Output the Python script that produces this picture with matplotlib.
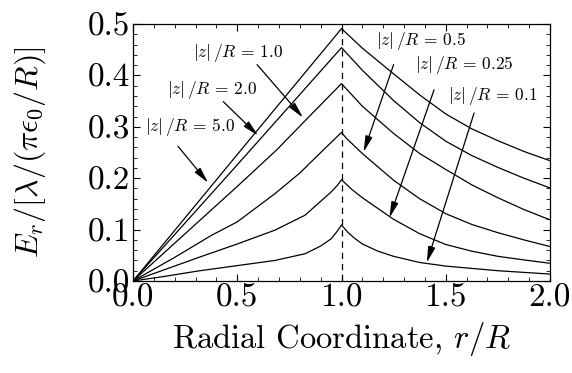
import matplotlib
matplotlib.use("Agg")
import matplotlib.pyplot as plt
from matplotlib.ticker import MultipleLocator

plt.rcParams['font.family'] = 'serif'
plt.rcParams['font.serif'] = ['cmr10', 'DejaVu Serif']
plt.rcParams['mathtext.fontset'] = 'cm'
plt.rcParams['axes.formatter.use_mathtext'] = True

# curves: |z|/R labels and sampled points (r/R, E_r)
z_labels = ["5.0", "2.0", "1.0", "0.5", "0.25", "0.1"]

r_z50 = [0.0, 0.5, 1.0, 1.1, 1.25, 1.375, 1.5, 1.625, 1.75, 1.875, 2.0]
E_z50 = [0.0, 0.246, 0.491, 0.453, 0.403, 0.362, 0.325, 0.296, 0.273, 0.252, 0.234]

r_z20 = [0.0, 0.5, 1.0, 1.1, 1.25, 1.375, 1.5, 1.625, 1.75, 1.875, 2.0]
E_z20 = [0.0, 0.226, 0.454, 0.410, 0.351, 0.308, 0.272, 0.244, 0.221, 0.200, 0.181]

r_z10 = [0.0, 0.3125, 0.5, 0.689, 0.85, 1.0, 1.1, 1.25, 1.375, 1.5, 1.625, 1.75, 1.875, 2.0]
E_z10 = [0.0, 0.115, 0.184, 0.255, 0.322, 0.384, 0.340, 0.287, 0.248, 0.217, 0.187, 0.162, 0.139, 0.119]

r_z05 = [0.0, 0.2, 0.377, 0.5, 0.681, 0.8, 0.913, 1.0, 1.025, 1.1, 1.25, 1.375, 1.5, 1.625, 1.75, 1.875, 2.0]
E_z05 = [0.0, 0.046, 0.089, 0.115, 0.170, 0.210, 0.255, 0.289, 0.277, 0.248, 0.196, 0.160, 0.131, 0.110, 0.094, 0.080, 0.067]

r_z025 = [0.0, 0.3125, 0.5, 0.681, 0.825, 0.9, 0.95, 0.98, 1.0, 1.05, 1.1, 1.25, 1.375, 1.5, 1.625, 1.75, 1.875, 2.0]
E_z025 = [0.0, 0.0455, 0.072, 0.099, 0.128, 0.155, 0.173, 0.186, 0.197, 0.178, 0.162, 0.120, 0.092, 0.071, 0.058, 0.048, 0.041, 0.0345]

r_z01 = [0.0, 0.152, 0.3125, 0.681, 0.825, 0.9, 0.95, 0.98, 1.0, 1.03, 1.06, 1.1, 1.175, 1.25, 1.375, 1.5, 1.75, 2.0]
E_z01 = [0.0, 0.009, 0.0195, 0.040, 0.053, 0.068, 0.082, 0.097, 0.109, 0.095, 0.084, 0.072, 0.058, 0.048, 0.036, 0.029, 0.020, 0.0135]

curves = [(r_z50, E_z50), (r_z20, E_z20), (r_z10, E_z10),
          (r_z05, E_z05), (r_z025, E_z025), (r_z01, E_z01)]

# annotation: label position, arrow tail, arrow tip (data coords)
label_pos = [(0.274, 0.300), (0.38, 0.372), (0.505, 0.444),
             (1.38, 0.4665), (1.59, 0.421), (1.726, 0.359)]
arrow_tail = [(0.216, 0.262), (0.433, 0.349), (0.595, 0.421),
              (1.25, 0.421), (1.444, 0.372), (1.636, 0.327)]
arrow_tip = [(0.36, 0.191), (0.60, 0.283), (0.815, 0.318),
             (1.106, 0.251), (1.23, 0.123), (1.409, 0.0357)]

x_ticks = [0.0, 0.5, 1.0, 1.5, 2.0]
y_ticks = [0.0, 0.1, 0.2, 0.3, 0.4, 0.5]

fig = plt.figure(figsize=(5.72, 3.73), dpi=100)
ax = fig.add_axes([133/572, 1 - 281/373, (550-133)/572, (281-24)/373])

for r, E in curves:
    ax.plot(r, E, color='black', lw=0.9)

ax.axvline(1.0, color='black', lw=0.9, ls=(0, (5, 4)))

for lab, lp, tl, tp in zip(z_labels, label_pos, arrow_tail, arrow_tip):
    ax.text(lp[0], lp[1], r"$|z|\,/R\, =\, %s$" % lab, ha='center', va='center', fontsize=12.5)
    ax.annotate("", xy=tp, xytext=tl,
                arrowprops=dict(arrowstyle='-|>,head_length=0.8,head_width=0.18',
                                mutation_scale=12, color='black', lw=0.9,
                                shrinkA=0, shrinkB=0))

ax.set_xlim(0, 2)
ax.set_ylim(0, 0.5)
ax.set_xticks(x_ticks)
ax.set_xticklabels(["%.1f" % v for v in x_ticks])
ax.set_yticks(y_ticks)
ax.set_yticklabels(["%.1f" % v for v in y_ticks])
ax.xaxis.set_minor_locator(MultipleLocator(0.1))
ax.yaxis.set_minor_locator(MultipleLocator(0.02))
ax.tick_params(which='both', direction='in', top=True, right=True, labelsize=24, pad=2)
ax.tick_params(which='major', length=5, width=0.8)
ax.tick_params(which='minor', length=3, width=0.6)
for s in ax.spines.values():
    s.set_linewidth(0.9)

ax.set_xlabel(r"Radial Coordinate, $r/R$", fontsize=23.5)
ax.xaxis.set_label_coords(0.5, -0.15)
ax.xaxis.label.set_va('top')
ax.set_ylabel(r"$E_r/[\lambda/(\pi\epsilon_0/R)]$", fontsize=23)
ax.yaxis.set_label_coords(-0.205, 0.5)

fig.savefig("out.png", dpi=100)
